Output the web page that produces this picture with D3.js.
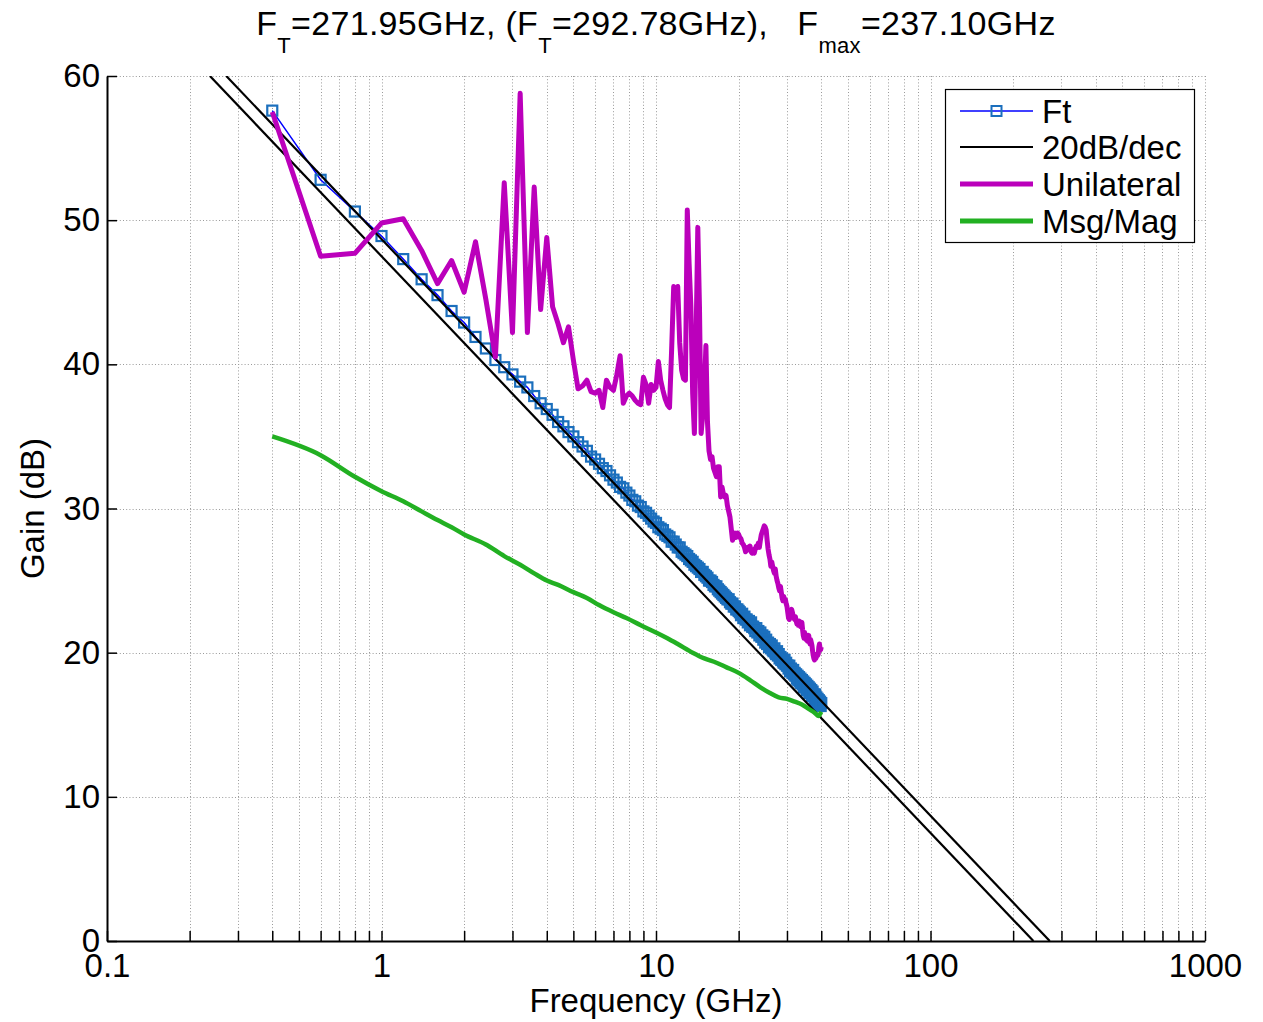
<!DOCTYPE html>
<html>
<head>
<meta charset="utf-8">
<script src="https://cdn.jsdelivr.net/npm/d3@7"></script>
<style>
  body { margin: 0; background: #fff; }
  svg { display: block; }
  text { font-family: "Liberation Sans", Arial, Helvetica, sans-serif; fill: #000; }
</style>
</head>
<body>
<svg id="chart" width="1263" height="1022"></svg>
<script>
// ---- Frequency sweep (GHz): 0.4 to 40 in 0.2 GHz steps ----
const sweepStartGHz = 0.4;
const sweepStepGHz = 0.2;
const sweepCount = 199;
const sweepFreqGHz = d3.range(sweepCount).map(i => +(sweepStartGHz + i * sweepStepGHz).toFixed(1));

// ---- Current gain |h21| (dB), one value per sweep point ----
const ftGainDb = [
  57.6, 52.8, 50.6,
  48.9, 47.3, 45.9, 44.8, 43.7,
  42.9, 41.9, 41.1, 40.3, 39.8,
  39.3, 38.8, 38.4, 37.8, 37.3,
  36.9, 36.5, 36.0, 35.7, 35.3,
  35.0, 34.6, 34.3, 34.0, 33.6,
  33.4, 33.1, 32.8, 32.6, 32.3,
  32.0, 31.8, 31.5, 31.4, 31.1,
  30.9, 30.6, 30.5, 30.2, 30.1,
  29.8, 29.7, 29.5, 29.3, 29.1,
  29.0, 28.7, 28.6, 28.5, 28.2,
  28.1, 28.0, 27.7, 27.7, 27.5,
  27.3, 27.3, 27.0, 26.9, 26.8,
  26.7, 26.5, 26.4, 26.3, 26.1,
  26.0, 25.9, 25.8, 25.6, 25.6,
  25.4, 25.3, 25.2, 25.0, 25.0,
  24.9, 24.7, 24.6, 24.6, 24.4,
  24.3, 24.2, 24.1, 24.0, 23.9,
  23.8, 23.7, 23.7, 23.5, 23.4,
  23.4, 23.2, 23.2, 23.0, 23.0,
  22.9, 22.8, 22.6, 22.7, 22.4,
  22.5, 22.3, 22.3, 22.1, 22.2,
  21.9, 22.1, 21.8, 21.8, 21.7,
  21.5, 21.7, 21.4, 21.5, 21.2,
  21.4, 21.1, 21.2, 20.9, 21.1,
  20.7, 20.9, 20.6, 20.7, 20.4,
  20.6, 20.3, 20.5, 20.2, 20.1,
  20.3, 20.0, 19.9, 20.1, 19.8,
  19.9, 19.6, 19.7, 19.5, 19.6,
  19.4, 19.3, 19.5, 19.2, 19.3,
  19.1, 19.1, 18.9, 19.1, 18.7,
  18.9, 18.8, 18.6, 18.8, 18.5,
  18.6, 18.4, 18.5, 18.2, 18.4,
  18.1, 18.3, 18.0, 18.2, 17.9,
  18.1, 17.8, 18.0, 17.6, 17.9,
  17.6, 17.8, 17.4, 17.7, 17.4,
  17.6, 17.2, 17.5, 17.2, 17.4,
  17.0, 17.3, 17.0, 17.1, 16.8,
  17.1, 16.7, 16.9, 16.6, 16.8,
  16.5, 16.7, 16.4, 16.6, 16.3,
  16.5
];

// ---- Unilateral power gain U (dB), one value per sweep point ----
const unilateralGainDb = [
  57.5, 47.5, 47.7,
  49.8, 50.1, 47.9, 45.6, 47.2,
  45.0, 48.5, 44.5, 40.5, 52.6,
  42.2, 58.8, 42.2, 52.3, 43.8,
  48.8, 44.0, 42.8, 41.5, 42.6,
  40.3, 38.3, 38.5, 38.9, 38.1,
  38.0, 38.2, 37.0, 38.9, 38.4,
  38.2, 39.3, 40.6, 37.3, 37.8,
  38.0, 37.8, 37.5, 37.3, 37.2,
  39.1, 38.6, 37.3, 38.6, 38.2,
  38.4, 40.2, 38.9, 38.2, 37.6,
  37.2, 37.0, 41.0, 45.4, 45.0,
  45.4, 41.5, 39.6, 39.0, 38.9,
  50.7, 47.0, 44.0, 38.0, 35.2,
  42.0, 49.5, 44.0, 35.2, 36.5,
  38.2, 41.3, 36.0, 34.0, 33.4,
  33.6, 32.8, 32.5, 32.2, 32.9,
  32.9, 30.8, 31.5, 31.0, 30.8,
  30.9, 30.2, 29.8, 29.4, 28.6,
  27.8, 28.1, 28.3, 28.0, 28.3,
  28.2, 28.0, 27.9, 27.6, 27.5,
  27.3, 27.0, 27.1, 27.3, 27.2,
  27.4, 27.0, 26.9, 27.1, 26.9,
  27.2, 27.4, 27.3, 27.6, 27.3,
  27.8, 28.2, 28.4, 28.6, 28.8,
  28.7, 28.5, 27.8, 27.2, 26.8,
  26.5, 26.0, 26.3, 26.0, 25.7,
  25.5, 25.8, 25.3, 25.0, 24.8,
  24.5, 24.3, 24.6, 24.2, 23.8,
  23.6, 23.9, 23.6, 23.7, 23.4,
  23.2, 22.8, 22.4, 22.3, 22.6,
  22.9, 23.0, 22.8, 22.5, 22.4,
  22.3, 22.5, 22.2, 22.0, 22.1,
  21.9, 22.2, 22.1, 21.8, 21.9,
  22.1, 21.6, 21.2, 21.0, 21.4,
  21.2, 20.9, 21.1, 20.8, 20.9,
  21.2, 20.8, 20.6, 20.9, 20.7,
  20.5, 20.1, 19.8, 19.6, 19.5,
  19.8, 19.6, 19.7, 19.9, 19.8,
  19.9, 20.4, 20.6, 20.3, 20.2,
  20.4
];

// ---- Maximum stable / available gain (dB) ----
const msgFreqGHz = [0.4, 0.6, 0.8, 1.0, 1.2, 1.4, 1.6, 1.8, 2.0, 2.4, 2.8, 3.2, 3.6, 4.0, 4.4,
  5.0, 5.6, 6.2, 7.0, 7.8, 8.8, 10.0, 11.0, 12.0, 13.6, 15.0, 16.6, 18.0, 20.0, 22.0,
  24.0, 26.0, 28.0, 30.0, 32.0, 34.0, 36.0, 38.0, 39.0, 40.0];
const msgGainDb = [35.0, 33.7, 32.2, 31.2, 30.5, 29.8, 29.2, 28.7, 28.2, 27.5, 26.7, 26.1, 25.5, 25.0, 24.7,
  24.2, 23.8, 23.3, 22.8, 22.4, 21.9, 21.4, 21.0, 20.6, 20.0, 19.6, 19.3, 19.0, 18.6, 18.1,
  17.6, 17.2, 16.9, 16.8, 16.6, 16.4, 16.1, 15.8, 15.6, 15.9];

// ---- Extracted figures of merit (GHz) ----
const ftFitGHz = 271.95;
const ftExtrapGHz = 292.78;
const fmaxGHz = 237.10;

// -20 dB/decade reference lines: gain falls from 60 dB to 0 dB over three decades
const slopeGainDb = [60, 0];
const slopeLines = [
  { freqGHz: [fmaxGHz / 1000, fmaxGHz], gainDb: slopeGainDb },
  { freqGHz: [ftFitGHz / 1000, ftFitGHz], gainDb: slopeGainDb }
];

// ---- Axes ----
const xDomainGHz = [0.1, 1000];
const xMajorTicks = [0.1, 1, 10, 100, 1000];
const xMajorLabels = ["0.1", "1", "10", "100", "1000"];
const yDomainDb = [0, 60];
const yTicks = [0, 10, 20, 30, 40, 50, 60];
const yTickLabels = ["0", "10", "20", "30", "40", "50", "60"];

const legendLabels = ["Ft", "20dB/dec", "Unilateral", "Msg/Mag"];

// ---- Styling ----
const colors = {
  ftLine: "#0000ff",
  ftMarker: "#1b6fbd",
  slope: "#000000",
  unilateral: "#bb00bb",
  msg: "#22b022",
  grid: "#9a9a9a"
};

const plot = { left: 107, right: 1205, top: 76, bottom: 941 };
const svg = d3.select("#chart");

const x = d3.scaleLog().domain(xDomainGHz).range([plot.left, plot.right]);
const y = d3.scaleLinear().domain(yDomainDb).range([plot.bottom, plot.top]);

svg.append("rect").attr("width", 1263).attr("height", 1022).attr("fill", "#fff");

// clip region for data
svg.append("defs").append("clipPath").attr("id", "plotClip")
  .append("rect")
  .attr("x", plot.left).attr("y", plot.top)
  .attr("width", plot.right - plot.left).attr("height", plot.bottom - plot.top);

// ---- Dotted grid ----
const allXTicks = x.ticks();
const grid = svg.append("g").attr("class", "grid")
  .attr("stroke", colors.grid).attr("stroke-width", 1).attr("stroke-dasharray", "1,2.2");
grid.selectAll("line.v").data(allXTicks).join("line").attr("class", "v")
  .attr("x1", d => Math.round(x(d)) + 0.5).attr("x2", d => Math.round(x(d)) + 0.5)
  .attr("y1", plot.top).attr("y2", plot.bottom);
grid.selectAll("line.h").data(yTicks).join("line").attr("class", "h")
  .attr("x1", plot.left).attr("x2", plot.right)
  .attr("y1", d => Math.round(y(d)) + 0.5).attr("y2", d => Math.round(y(d)) + 0.5);

// ---- Data ----
const data = svg.append("g").attr("clip-path", "url(#plotClip)");

const ftPoints = sweepFreqGHz.map((f, i) => ({ f, g: ftGainDb[i] })).filter(d => d.g !== undefined);
const uPoints = sweepFreqGHz.map((f, i) => ({ f, g: unilateralGainDb[i] })).filter(d => d.g !== undefined);
const msgPoints = msgFreqGHz.map((f, i) => ({ f, g: msgGainDb[i] }));

const line = d3.line().x(d => x(d.f)).y(d => y(d.g));

// Ft trace with square markers
data.append("path").datum(ftPoints)
  .attr("d", line).attr("fill", "none")
  .attr("stroke", colors.ftLine).attr("stroke-width", 1.5);
const markerSize = 10;
data.append("g").selectAll("rect").data(ftPoints).join("rect")
  .attr("x", d => x(d.f) - markerSize / 2).attr("y", d => y(d.g) - markerSize / 2)
  .attr("width", markerSize).attr("height", markerSize)
  .attr("fill", "none").attr("stroke", colors.ftMarker).attr("stroke-width", 2.2);

// 20 dB/dec reference lines
slopeLines.forEach(s => {
  const pts = s.freqGHz.map((f, i) => ({ f, g: s.gainDb[i] }));
  data.append("path").datum(pts)
    .attr("d", line).attr("fill", "none")
    .attr("stroke", colors.slope).attr("stroke-width", 2.2);
});

// Unilateral gain
data.append("path").datum(uPoints)
  .attr("d", line).attr("fill", "none")
  .attr("stroke", colors.unilateral).attr("stroke-width", 5)
  .attr("stroke-linejoin", "round");

// MSG / MAG
data.append("path").datum(msgPoints)
  .attr("d", d3.line().curve(d3.curveMonotoneX).x(d => x(d.f)).y(d => y(d.g)))
  .attr("fill", "none")
  .attr("stroke", colors.msg).attr("stroke-width", 4.5)
  .attr("stroke-linejoin", "round");

// ---- Axes ----
const labelFor = new Map(xMajorTicks.map((v, i) => [v, xMajorLabels[i]]));
const xAxis = d3.axisBottom(x)
  .tickValues(allXTicks)
  .tickSize(-10).tickSizeOuter(0).tickPadding(13)
  .tickFormat(d => {
    const key = xMajorTicks.find(m => Math.abs(m - d) / m < 1e-9);
    return key !== undefined ? labelFor.get(key) : "";
  });
const gx = svg.append("g").attr("transform", `translate(0,${plot.bottom})`).call(xAxis);
gx.select(".domain").attr("stroke", "#000").attr("stroke-width", 2);
gx.selectAll(".tick line").attr("stroke", "#000").attr("stroke-width", 1.5);
gx.selectAll(".tick text").attr("font-size", 33).attr("font-family", null);

const yAxis = d3.axisLeft(y)
  .tickValues(yTicks)
  .tickSize(-10).tickSizeOuter(0).tickPadding(7)
  .tickFormat((d, i) => yTickLabels[i]);
const gy = svg.append("g").attr("transform", `translate(${plot.left},0)`).call(yAxis);
gy.select(".domain").attr("stroke", "#000").attr("stroke-width", 2);
gy.selectAll(".tick line").attr("stroke", "#000").attr("stroke-width", 1.5);
gy.selectAll(".tick text").attr("font-size", 33).attr("font-family", null);

// ---- Axis titles ----
svg.append("text")
  .attr("x", (plot.left + plot.right) / 2).attr("y", 1012)
  .attr("text-anchor", "middle").attr("font-size", 33)
  .text("Frequency (GHz)");

svg.append("text")
  .attr("transform", `translate(44,${(plot.top + plot.bottom) / 2}) rotate(-90)`)
  .attr("text-anchor", "middle").attr("font-size", 33)
  .text("Gain (dB)");

// ---- Title with subscripts ----
const title = svg.append("text")
  .attr("x", 656).attr("y", 35)
  .attr("text-anchor", "middle").attr("font-size", 34)
  .attr("letter-spacing", 0.3)
  .style("white-space", "pre");
const subSize = 22, subShift = 18;
const titleParts = [
  { t: "F" }, { t: "T", sub: true }, { t: `=${ftFitGHz.toFixed(2)}GHz, (F` },
  { t: "T", sub: true }, { t: `=${ftExtrapGHz.toFixed(2)}GHz),   F` },
  { t: "max", sub: true }, { t: `=${fmaxGHz.toFixed(2)}GHz` }
];
let shifted = false;
titleParts.forEach(p => {
  const ts = title.append("tspan").text(p.t);
  if (p.sub && !shifted) { ts.attr("dy", subShift).attr("font-size", subSize); shifted = true; }
  else if (p.sub) { ts.attr("font-size", subSize); }
  else if (shifted) { ts.attr("dy", -subShift); shifted = false; }
});

// ---- Legend ----
const legend = svg.append("g");
legend.append("rect")
  .attr("x", 945.5).attr("y", 89.5).attr("width", 249).attr("height", 153)
  .attr("fill", "#fff").attr("stroke", "#000").attr("stroke-width", 1.2);
const legendRows = [111, 147, 184, 221];
const legendStyles = [
  { stroke: colors.ftLine, width: 1.5, marker: true },
  { stroke: colors.slope, width: 2 },
  { stroke: colors.unilateral, width: 5 },
  { stroke: colors.msg, width: 5 }
];
legendLabels.forEach((lab, i) => {
  const yy = legendRows[i], st = legendStyles[i];
  legend.append("line")
    .attr("x1", 960).attr("x2", 1033).attr("y1", yy).attr("y2", yy)
    .attr("stroke", st.stroke).attr("stroke-width", st.width);
  if (st.marker) {
    legend.append("rect")
      .attr("x", 996.5 - markerSize / 2).attr("y", yy - markerSize / 2)
      .attr("width", markerSize).attr("height", markerSize)
      .attr("fill", "none").attr("stroke", colors.ftMarker).attr("stroke-width", 2);
  }
  legend.append("text")
    .attr("x", 1042).attr("y", yy).attr("dy", "0.35em")
    .attr("font-size", 33).text(lab);
});
</script>
</body>
</html>
